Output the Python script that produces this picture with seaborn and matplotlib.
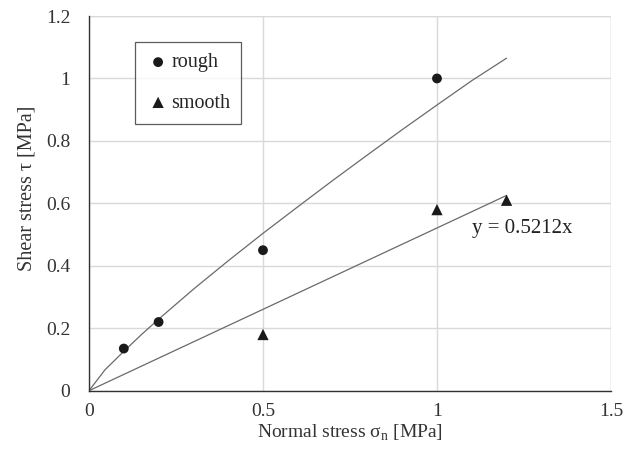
import matplotlib
matplotlib.use("Agg")
import matplotlib.pyplot as plt
import seaborn as sns
import pandas as pd

# Data
rough_x = [0.1, 0.2, 0.5, 1.0]
rough_y = [0.135, 0.22, 0.45, 1.0]
smooth_x = [0.5, 1.0, 1.2]
smooth_y = [0.18, 0.58, 0.61]
# rough trend curve
rough_fit_x = [0.0, 0.046, 0.1, 0.15, 0.2, 0.3, 0.4, 0.5, 0.6, 0.7, 0.8, 0.9, 1.0, 1.1, 1.2]
rough_fit_y = [0.0, 0.067, 0.126, 0.179, 0.229, 0.325, 0.416, 0.504, 0.589, 0.673, 0.755, 0.836, 0.915, 0.993, 1.065]
# smooth linear trend y = 0.5212x
smooth_fit_x = [0.0, 1.2]
smooth_fit_y = [0.0, 0.6254]
x_ticks = [0, 0.5, 1, 1.5]
x_tick_labels = ["0", "0.5", "1", "1.5"]
y_ticks = [0, 0.2, 0.4, 0.6, 0.8, 1.0, 1.2]
y_tick_labels = ["0", "0.2", "0.4", "0.6", "0.8", "1", "1.2"]

sns.set_style("white")
plt.rcParams["font.family"] = ["Liberation Serif", "DejaVu Serif"]
plt.rcParams["mathtext.fontset"] = "custom"
plt.rcParams["mathtext.rm"] = "Liberation Serif"

fig = plt.figure(figsize=(6.33, 4.59), dpi=100)
ax = fig.add_axes([0.1406, 0.1488, 0.8246, 0.8163])

line_col = "#6a6a6a"
sns.lineplot(x=rough_fit_x, y=rough_fit_y, ax=ax, color=line_col, lw=0.9, sort=False, zorder=2)
sns.lineplot(x=smooth_fit_x, y=smooth_fit_y, ax=ax, color=line_col, lw=0.9, sort=False, zorder=2)

sns.scatterplot(x=rough_x, y=rough_y, ax=ax, marker="o", s=50, color="#1a1a1a",
                edgecolor="none", label="rough", zorder=3)
sns.scatterplot(x=smooth_x, y=smooth_y, ax=ax, marker="^", s=66, color="#1a1a1a",
                edgecolor="none", label="smooth", zorder=3)

ax.text(1.1, 0.52, "y = 0.5212x", fontsize=15, color="#222222", va="center", ha="left")

ax.set_xlim(0, 1.5)
ax.set_ylim(0, 1.2)
ax.set_xticks(x_ticks)
ax.set_xticklabels(x_tick_labels)
ax.set_yticks(y_ticks)
ax.set_yticklabels(y_tick_labels)
ax.tick_params(axis="both", length=0, labelsize=14, colors="#333333")
ax.tick_params(axis="x", pad=9)
ax.tick_params(axis="y", pad=13.5)

ax.grid(True, color="#d9d9d9", lw=1.0)
ax.set_axisbelow(True)
for s in ["top", "right"]:
    ax.spines[s].set_visible(False)
for s in ["left", "bottom"]:
    ax.spines[s].set_color("#333333")
    ax.spines[s].set_linewidth(1.0)
# gridlines at the top and right limits
ax.axhline(1.2, color="#d9d9d9", lw=1.0, zorder=0)
ax.axvline(1.5, color="#d9d9d9", lw=1.0, zorder=0)

ax.set_xlabel(r"Normal stress σ$_\mathregular{n}$ [MPa]", fontsize=14, color="#333333", labelpad=2)
ax.set_ylabel("Shear stress τ [MPa]", fontsize=14.5, color="#333333")
ax.yaxis.set_label_coords(-0.1, 0.541)

leg = ax.legend(loc="upper left", bbox_to_anchor=(0.088, 0.93), frameon=True, fancybox=False,
                fontsize=14.5, labelspacing=1.05, handlelength=1.2, handletextpad=0.05,
                borderpad=0.55, borderaxespad=0)
leg.get_frame().set_edgecolor("#333333")
leg.get_frame().set_linewidth(0.9)

fig.savefig("out.png", dpi=100)
